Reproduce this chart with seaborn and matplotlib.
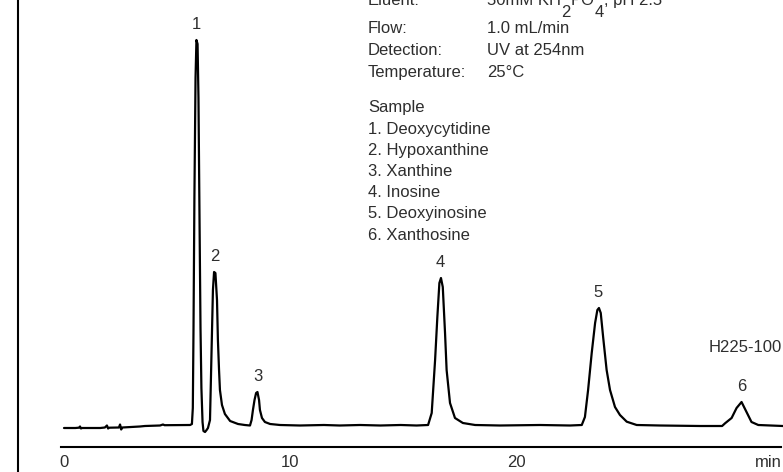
import matplotlib
matplotlib.use("Agg")
import matplotlib.pyplot as plt
import pandas as pd
import seaborn as sns
from matplotlib.lines import Line2D
from matplotlib.text import Annotation

# ---------------- data ----------------
time_min = [0.00, 0.50, 0.66, 0.71, 0.75, 0.80, 1.60, 1.81, 1.90, 1.95, 2.00, 2.43, 2.48, 2.53,
            2.58, 3.36, 3.58, 4.25, 4.38, 4.45, 5.58, 5.66, 5.70, 5.73, 5.77, 5.82, 5.86, 5.91,
            5.95, 6.00, 6.04, 6.08, 6.13, 6.17, 6.24, 6.31, 6.37, 6.46, 6.50, 6.55, 6.59, 6.64,
            6.70, 6.77, 6.81, 6.86, 6.90, 6.99, 7.12, 7.35, 7.70, 8.00, 8.23, 8.30, 8.36, 8.43,
            8.50, 8.56, 8.63, 8.67, 8.76, 8.89, 9.12, 9.56, 10.44, 11.50, 12.20, 13.10, 14.00,
            14.90, 15.60, 16.11, 16.27, 16.42, 16.52, 16.61, 16.68, 16.76, 16.86, 16.93, 17.08,
            17.30, 17.65, 18.19, 19.29, 21.06, 22.39, 22.91, 23.05, 23.19, 23.35, 23.50, 23.60,
            23.67, 23.75, 23.86, 24.01, 24.16, 24.38, 24.60, 24.90, 25.34, 26.37, 28.14, 29.12,
            29.25, 29.54, 29.76, 29.98, 30.20, 30.42, 30.72, 31.81]
signal = [0, 0, 0.3, 1.5, -0.5, 0, 0, 0.5, 2.5, -0.5, 0.3, 0.5, 3.5, -1.5,
          0.5, 1.5, 2.0, 2.5, 3.5, 2.8, 3.0, 4, 20, 98, 230, 350, 388, 384,
          330, 200, 100, 40, 6, -3, -4, -2, 0, 8, 48, 98, 138, 156,
          155, 128, 88, 58, 38, 23, 14, 7, 4, 3, 2.5, 8, 18, 28,
          35, 36, 28, 18, 10, 6, 4, 3, 2.5, 3, 2.5, 3, 2.5,
          3, 2.5, 3, 15, 68, 111, 145, 150, 141, 95, 58, 25,
          10, 5, 3, 2.5, 3, 2.5, 3, 11, 38, 75, 105, 118,
          120, 115, 90, 58, 38, 21, 13, 6.3, 3, 2.5, 2, 2,
          4.7, 10, 20, 26, 16, 6, 3, 2]

peak_ids = ["1", "2", "3", "4", "5", "6"]
peak_time = [5.87, 6.67, 8.56, 16.66, 23.63, 29.98]
peak_height = [388, 156, 36, 150, 120, 26]

tick_values = [0, 10, 20, 31.15]
tick_labels = ["0", "10", "20", "min"]

cond_labels = ["Flow:", "Detection:", "Temperature:"]
cond_values = ["1.0 mL/min", "UV at 254nm", "25°C"]
eluent_label = "Eluent:"
eluent_parts = ["50mM KH", "2", "PO", "4", ", pH 2.5"]
subscript_parts = ["2", "4"]
sample_title = "Sample"
sample_names = ["1. Deoxycytidine", "2. Hypoxanthine", "3. Xanthine",
                "4. Inosine", "5. Deoxyinosine", "6. Xanthosine"]
figure_code = "H225-100"

# ---------------- drawing ----------------
sns.set_theme(style="white")
plt.rcParams["font.family"] = ["Liberation Sans", "DejaVu Sans"]

W, H = 783, 472
TXT = "#2e2e2e"
FS = 12

fig = plt.figure(figsize=(W / 100, H / 100), dpi=100)
fig.patch.set_facecolor("white")
ax = fig.add_axes([61 / W, 25 / H, 720 / W, 447 / H])
ax.set_facecolor("none")

df = pd.DataFrame({"time": time_min, "signal": signal})
sns.lineplot(data=df, x="time", y="signal", ax=ax, color="black", linewidth=1.6,
             sort=False, estimator=None, clip_on=False)

px_per_min = 22.6
xmin = -3 / px_per_min
ax.set_xlim(xmin, xmin + 720 / px_per_min)
ax.set_ylim(-19, 428)

for s in ["top", "right", "left"]:
    ax.spines[s].set_visible(False)
ax.spines["bottom"].set_color("black")
ax.spines["bottom"].set_linewidth(1.5)
ax.set_yticks([])
ax.set_xticks(tick_values)
ax.set_xticklabels(tick_labels)
ax.tick_params(axis="x", length=0, pad=6, labelsize=FS, labelcolor=TXT)
ax.set_xlabel("")
ax.set_ylabel("")
ax.grid(False)

for pid, t, h in zip(peak_ids, peak_time, peak_height):
    ax.annotate(pid, (t, h), xytext=(0, 8), textcoords="offset points",
                ha="center", va="baseline", fontsize=FS, color=TXT, annotation_clip=False)

# left border line
fig.add_artist(Line2D([17.5 / W, 17.5 / W], [0, 1], transform=fig.transFigure,
                      color="black", linewidth=1.5))


def fpx(x, y_top):
    return x / W, (H - y_top) / H


# Eluent line (partly cut off at the top edge, as in the original)
fig.text(*fpx(368, 5), eluent_label, fontsize=FS, color=TXT, va="baseline", ha="left")
prev = fig.text(*fpx(487, 5), eluent_parts[0], fontsize=FS, color=TXT,
                va="baseline", ha="left")
for part in eluent_parts[1:]:
    ybase = 17 if part in subscript_parts else 5
    prev = fig.add_artist(Annotation(part, xy=(1.0, H - ybase),
                                     xycoords=(prev, "figure pixels"),
                                     fontsize=FS, color=TXT, va="baseline", ha="left"))

row_base = [33, 55, 77]
for lab, val, yb in zip(cond_labels, cond_values, row_base):
    fig.text(*fpx(368, yb), lab, fontsize=FS, color=TXT, va="baseline", ha="left")
    fig.text(*fpx(487, yb), val, fontsize=FS, color=TXT, va="baseline", ha="left")

fig.text(*fpx(368, 112), sample_title, fontsize=FS, color=TXT, va="baseline", ha="left")
for i, name in enumerate(sample_names):
    fig.text(*fpx(368, 134 + 21.1 * i), name, fontsize=FS, color=TXT,
             va="baseline", ha="left")

fig.text(*fpx(782, 352), figure_code, fontsize=FS, color=TXT, va="baseline", ha="right")

fig.savefig("out.png", dpi=100, facecolor="white")
